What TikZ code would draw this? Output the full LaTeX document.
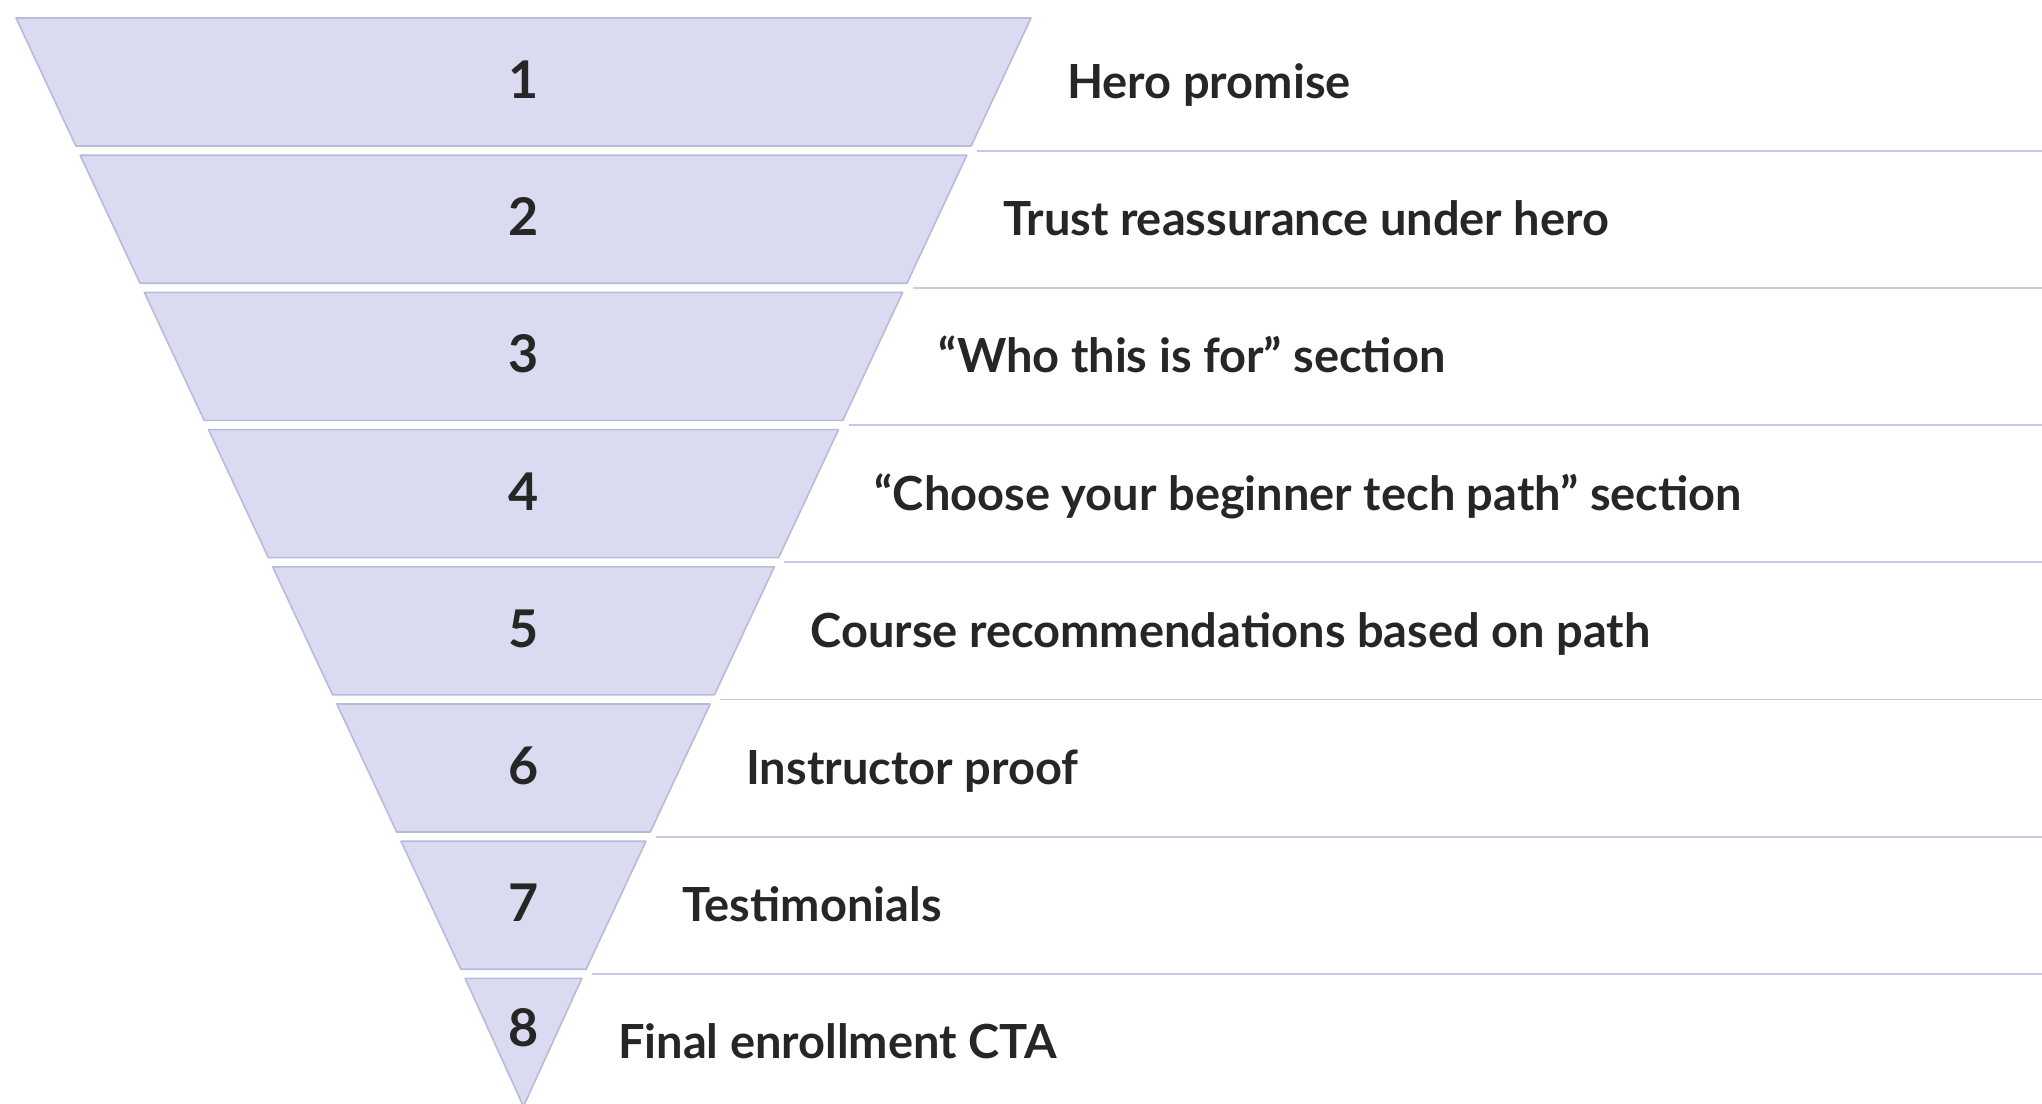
\documentclass[tikz,border=0pt]{standalone}
\usepackage{fontspec}
\setmainfont{Lato}
\definecolor{funfill}{HTML}{DADBF0}
\definecolor{funline}{HTML}{B9BADB}
\definecolor{sepline}{HTML}{C8C9E2}
\definecolor{ink}{HTML}{262626}
\tikzset{
  seg/.style={fill=funfill,draw=funline,line width=1.6pt,line join=round},
  sepl/.style={draw=sepline,line width=1.8pt},
  numtxt/.style={text=ink,font=\fontsize{52}{60}\selectfont\bfseries,inner sep=0pt,anchor=base},
  labtxt/.style={text=ink,font=\fontsize{47}{55}\selectfont\bfseries,inner sep=0pt,anchor=base west}
}
\begin{document}
\begin{tikzpicture}[x=1pt,y=-1pt]
\useasboundingbox (0,0) rectangle (2042,1103);
\fill[white] (0,0) rectangle (2042,1103);
\def\cx{523.5}
\foreach \i/\txt in {0/Hero promise,1/Trust reassurance under hero,2/“Who this is for” section,3/“Choose your beginner tech path” section,4/Course recommendations based on path,5/Instructor proof,6/Testimonials,7/Final enrollment CTA}{
  \pgfmathsetmacro\yt{18+137.2*\i}
  \pgfmathsetmacro\yb{\yt+128}
  \pgfmathsetmacro\wt{507.5-0.4677*(\yt-18)}
  \pgfmathsetmacro\wb{max(0,507.5-0.4677*(\yb-18))}
  \pgfmathsetmacro\ym{\yt+64+16.5}
  \pgfmathsetmacro\lx{\cx+\wt+36}
  \draw[seg] (\cx-\wt,\yt) -- (\cx+\wt,\yt) -- (\cx+\wb,\yb) -- (\cx-\wb,\yb) -- cycle;
  \ifnum\i<7
    \node[numtxt] (num\i) at (\cx,\ym) {\the\numexpr\i+1\relax};
    \pgfmathsetmacro\ys{\yb+4.6}
    \pgfmathsetmacro\ws{507.5-0.4677*(\ys-18)}
    \coordinate (s\i) at (\cx+\ws+8,\ys);
    \coordinate (e\i) at (2042,\ys);
    \draw[sepl] (s\i) -- (e\i);
  \else
    \node[numtxt] (num\i) at (\cx,1046.5) {8};
  \fi
  \node[labtxt] (lab\i) at (\lx,\ym) {\txt};
}
\end{tikzpicture}
\end{document}
